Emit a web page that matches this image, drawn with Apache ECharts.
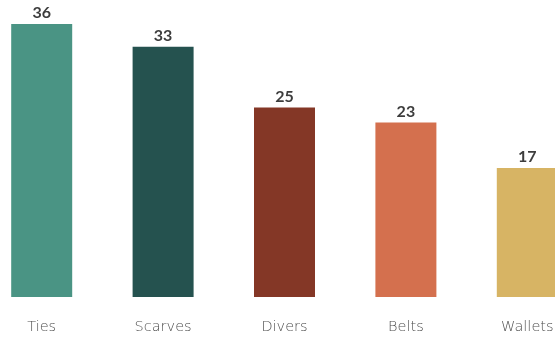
<!DOCTYPE html>
<html>
<head>
<meta charset="utf-8">
<style>
  html, body { margin: 0; padding: 0; background: #ffffff; overflow: hidden; }
  #chart { position: absolute; left: -19px; top: 0; width: 607px; height: 340px; }
</style>
<script src="https://cdn.jsdelivr.net/npm/echarts@6/dist/echarts.min.js"></script>
</head>
<body>
<div id="chart"></div>
<script>
  // Product categories and their counts
  const categories = ['Ties', 'Scarves', 'Divers', 'Belts', 'Wallets'];
  const values = [36, 33, 25, 23, 17];
  const barColors = ['#4a9484', '#25524f', '#843726', '#d4704e', '#d7b464'];

  const chart = echarts.init(document.getElementById('chart'));
  chart.setOption({
    animation: false,
    grid: { left: 0, right: 0, top: 24, bottom: 43, containLabel: false },
    xAxis: {
      type: 'category',
      data: categories,
      axisLine: { show: false },
      axisTick: { show: false },
      axisLabel: {
        margin: 23,
        fontFamily: 'DejaVu Sans',
        fontWeight: 200,
        fontSize: 14.5,
        color: '#505050'
      }
    },
    yAxis: {
      type: 'value',
      min: 0,
      max: 36,
      show: false,
      splitLine: { show: false }
    },
    series: [{
      type: 'bar',
      barWidth: 61,
      data: values.map((v, i) => ({ value: v, itemStyle: { color: barColors[i] } })),
      label: {
        show: true,
        position: 'top',
        distance: 3,
        fontFamily: 'Lato',
        fontWeight: 'bold',
        fontSize: 16,
        color: '#3d3d3d'
      }
    }]
  });
</script>
</body>
</html>
